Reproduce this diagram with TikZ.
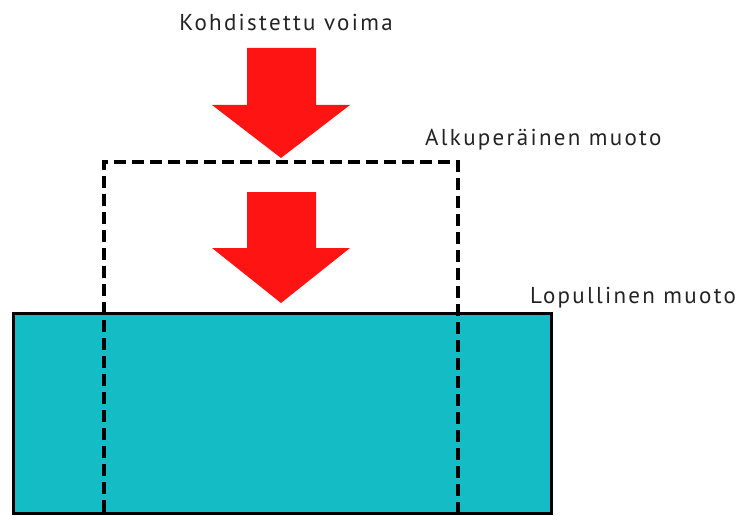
\documentclass[tikz,border=0pt]{standalone}
\usepackage{fontspec}
\setmainfont{PT Sans}
\newfontfamily\lblfont[LetterSpace=10]{PT Sans}
\definecolor{cyanfill}{RGB}{20,188,198}
\definecolor{arrowred}{RGB}{255,20,20}
\definecolor{txt}{RGB}{35,35,35}
\tikzset{
  lbl/.style={font=\lblfont\fontsize{23}{27}\selectfont, text=txt, inner sep=0pt},
  forcearrow/.style={fill=arrowred, draw=none},
  orig/.style={draw=black, line width=3.4pt, dash pattern=on 12pt off 6pt},
  final/.style={draw=black, line width=3.4pt, fill=cyanfill, line join=miter}
}
\begin{document}
\begin{tikzpicture}[x=1pt,y=-1pt]
\useasboundingbox (0,0) rectangle (736,516);
% final shape
\node[final, minimum width=538pt, minimum height=200pt, anchor=north west, inner sep=0pt] (final) at (12,312) {};
% original shape (dashed)
\coordinate (o1) at (104,512);
\coordinate (o2) at (104,162);
\coordinate (o3) at (458,162);
\coordinate (o4) at (458,512);
\draw[orig] (o1) -- (o2) -- (o3) -- (o4);
% arrows
\fill[forcearrow] (247,48) -- (316,48) -- (316,105) -- (350,105) -- (281,158) -- (212,105) -- (247,105) -- cycle;
\fill[forcearrow] (247,192) -- (316,192) -- (316,248) -- (350,248) -- (281,303) -- (212,248) -- (247,248) -- cycle;
% labels
\node[lbl] (force) at (286,22) {Kohdistettu voima};
\node[lbl, anchor=west] (origlbl) at (425,140) {Alkuperäinen muoto};
\node[lbl, anchor=west] (finallbl) at (530,298) {Lopullinen muoto};
\end{tikzpicture}
\end{document}
